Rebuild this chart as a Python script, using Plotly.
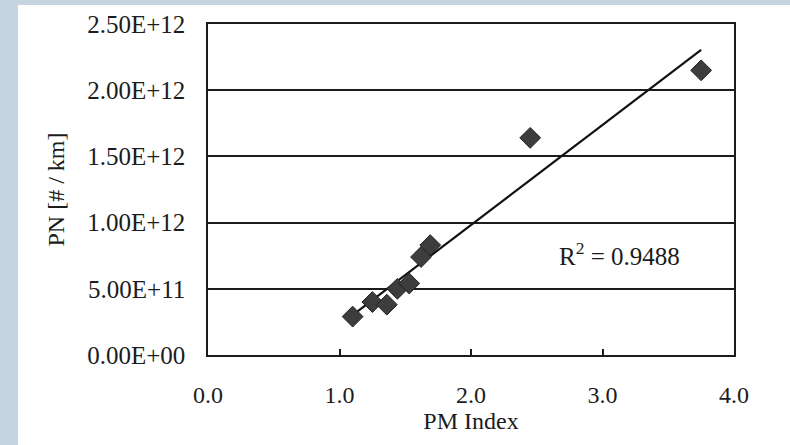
import numpy as np
import plotly.graph_objects as go

# ---- data ----
pm_index = [1.10, 1.25, 1.36, 1.44, 1.53, 1.62, 1.69, 2.45, 3.75]
pn = [2.9e11, 4.0e11, 3.8e11, 5.0e11, 5.4e11, 7.4e11, 8.3e11, 1.64e12, 2.15e12]
x_ticks = [0, 1, 2, 3, 4]
x_tick_text = ["0.0", "1.0", "2.0", "3.0", "4.0"]
y_ticks = [0, 5e11, 1e12, 1.5e12, 2e12, 2.5e12]
y_tick_text = ["0.00E+00", "5.00E+11", "1.00E+12", "1.50E+12", "2.00E+12", "2.50E+12"]
r2_label = "R<sup>2</sup> = 0.9488"

# linear trend line (least squares) across data range
xa = np.array(pm_index)
ya = np.array(pn)
slope, intercept = np.polyfit(xa, ya, 1)
trend_x = [xa.min(), xa.max()]
trend_y = [slope * v + intercept for v in trend_x]

W, H = 790, 445
ML, MR, MT, MB = 208, 56, 24, 90
pw, ph = W - ML - MR, H - MT - MB


def px_x(p):
    return (p - ML) / pw


def px_y(p):
    return (H - MB - p) / ph


FONT = "Liberation Serif, Times New Roman, serif"
INK = "#1c1c1c"
BG = "#c6d3e0"

fig = go.Figure()
fig.add_trace(go.Scatter(
    x=trend_x, y=trend_y, mode="lines",
    line=dict(color="#111111", width=2.2),
    showlegend=False, hoverinfo="skip",
))
fig.add_trace(go.Scatter(
    x=pm_index, y=pn, mode="markers",
    marker=dict(symbol="diamond", size=16, color="#3d3d3d",
                line=dict(color="#222222", width=1)),
    showlegend=False,
))

fig.add_annotation(
    x=3.13, y=7.63e11, xref="x", yref="y", text=r2_label, showarrow=False,
    font=dict(family=FONT, size=25, color=INK),
)

# blue-grey frame strips (left and top)
fig.add_shape(type="rect", xref="paper", yref="paper",
              x0=px_x(0), x1=px_x(18), y0=px_y(H), y1=px_y(0),
              fillcolor=BG, line=dict(width=0), layer="below")
fig.add_shape(type="rect", xref="paper", yref="paper",
              x0=px_x(0), x1=px_x(W), y0=px_y(5), y1=px_y(0),
              fillcolor=BG, line=dict(width=0), layer="below")

fig.update_layout(
    width=W, height=H,
    margin=dict(l=ML, r=MR, t=MT, b=MB, pad=0),
    paper_bgcolor="white", plot_bgcolor="white",
    font=dict(family=FONT, size=24, color=INK),
    xaxis=dict(
        range=[0, 4], tickvals=x_ticks, ticktext=x_tick_text,
        showgrid=False, zeroline=False,
        showline=True, mirror=True, linecolor=INK, linewidth=1.5,
        ticks="inside", ticklen=6, tickwidth=1.5, tickcolor=INK,
        ticklabelstandoff=17,
        tickfont=dict(family=FONT, size=24, color=INK),
        title=dict(text="PM Index", font=dict(family=FONT, size=24, color=INK), standoff=4),
    ),
    yaxis=dict(
        range=[0, 2.5e12], tickvals=y_ticks, ticktext=y_tick_text,
        showgrid=True, gridcolor=INK, gridwidth=1.5, zeroline=False,
        showline=True, mirror=True, linecolor=INK, linewidth=1.5,
        ticks="", ticklabelstandoff=16,
        tickfont=dict(family=FONT, size=25, color=INK),
        title=dict(text="PN [# / km]", font=dict(family=FONT, size=24, color=INK), standoff=16),
    ),
)

fig.write_html("out.html")
